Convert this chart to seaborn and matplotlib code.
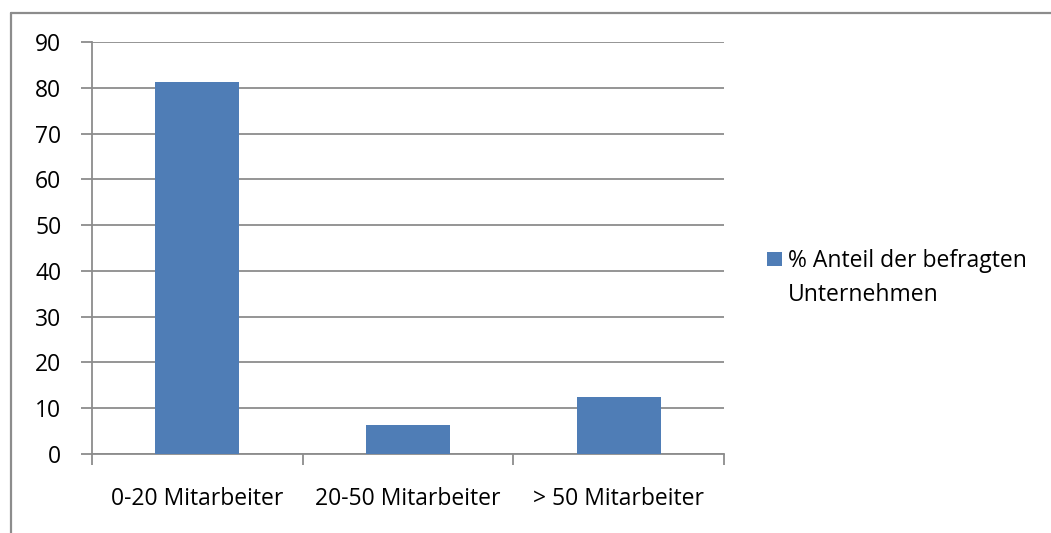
import matplotlib
matplotlib.use("Agg")
import matplotlib.pyplot as plt
from matplotlib.lines import Line2D
from matplotlib.patches import Patch, Rectangle
from matplotlib.legend_handler import HandlerPatch
import seaborn as sns
import pandas as pd

# Company size groups and share of surveyed companies (%)
categories = ["0-20 Mitarbeiter", "20-50 Mitarbeiter", "> 50 Mitarbeiter"]
shares = [81.25, 6.25, 12.5]
series_label = "% Anteil der befragten\nUnternehmen"
y_ticks = [0, 10, 20, 30, 40, 50, 60, 70, 80, 90]

bar_color = "#4F7DB6"
grid_color = "#8C8C8C"
font_size = 16.5

sns.set_theme(style="white")
plt.rcParams["font.family"] = ["Open Sans", "DejaVu Sans"]

df = pd.DataFrame({"Kategorie": categories, "Anteil": shares})

fig = plt.figure(figsize=(10.51, 5.33), dpi=100)
fig.patch.set_facecolor("white")
ax = fig.add_axes([92 / 1051, 1 - 454 / 533, (724 - 92) / 1051, (454 - 42) / 533])

sns.barplot(data=df, x="Kategorie", y="Anteil", color=bar_color,
            width=0.4, saturation=1, linewidth=0, ax=ax, zorder=3)

ax.set_xlim(-0.5, len(categories) - 0.5)
ax.set_ylim(0, 90)
ax.set_yticks(y_ticks)
ax.set_yticklabels([str(t) for t in y_ticks])
ax.set_xlabel("")
ax.set_ylabel("")

# horizontal gridlines
ax.yaxis.grid(True, color=grid_color, linewidth=1.3, zorder=0)
ax.xaxis.grid(False)
ax.set_axisbelow(True)

for side in ["top", "right"]:
    ax.spines[side].set_visible(False)
for side in ["left", "bottom"]:
    ax.spines[side].set_color(grid_color)
    ax.spines[side].set_linewidth(1.3)

ax.tick_params(axis="y", length=8, width=1.3, color=grid_color,
               labelsize=font_size, pad=14, left=True)
# category labels at centres, tick marks at category boundaries
ax.set_xticks(range(len(categories)))
ax.set_xticklabels(categories)
ax.tick_params(axis="x", which="major", length=0, labelsize=font_size, pad=24)
ax.set_xticks([i - 0.5 for i in range(len(categories) + 1)], minor=True)
ax.tick_params(axis="x", which="minor", length=8, width=1.3, color=grid_color,
               bottom=True, direction="out")
for lbl in ax.get_xticklabels() + ax.get_yticklabels():
    lbl.set_color("black")


def square_at_first_line(legend, orig_handle, xdescent, ydescent,
                         width, height, fontsize):
    # square marker sitting on the baseline of the first label line
    side = 10.2
    return Rectangle((-xdescent, -ydescent + height - side - 2.2), width, side)


handle = Patch(facecolor=bar_color, edgecolor="none")
leg = fig.legend([handle], [series_label], loc="upper left",
                 bbox_to_anchor=(767 / 1051, 1 - 249 / 533),
                 frameon=False, fontsize=font_size,
                 handlelength=0.65, handleheight=0.9,
                 handletextpad=0.27, borderaxespad=0, borderpad=0,
                 handler_map={Patch: HandlerPatch(patch_func=square_at_first_line)})
for txt in leg.get_texts():
    txt.set_color("black")
    txt.set_linespacing(1.55)
# align the marker with the top of the label instead of its centre
for packer in leg._legend_handle_box.get_children():
    for item in packer.get_children():
        item.align = "top"

# outer chart frame
fig.add_artist(Line2D([10.5 / 1051, 10.5 / 1051], [0, 1 - 12.5 / 533],
                      transform=fig.transFigure, color=grid_color, linewidth=1.6))
fig.add_artist(Line2D([10.5 / 1051, 1], [1 - 12.5 / 533, 1 - 12.5 / 533],
                      transform=fig.transFigure, color=grid_color, linewidth=1.6))

fig.savefig("out.png", dpi=100, facecolor="white")
